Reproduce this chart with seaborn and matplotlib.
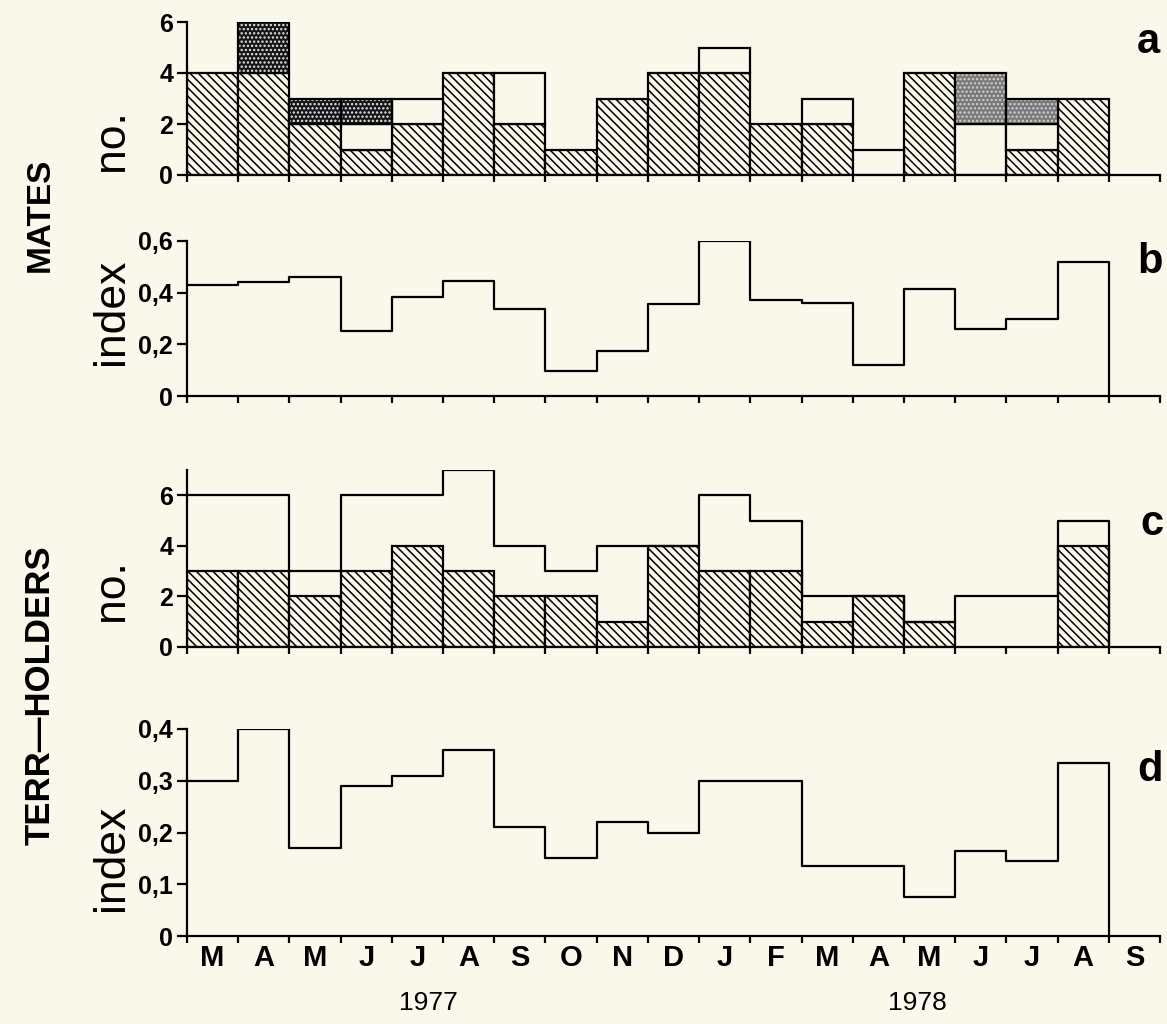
import numpy as np
import pandas as pd
import matplotlib
matplotlib.use("Agg")
import matplotlib.pyplot as plt
import seaborn as sns

# ---------------- data ----------------
months = ["M", "A", "M", "J", "J", "A", "S", "O", "N", "D",
          "J", "F", "M", "A", "M", "J", "J", "A", "S"]
years = ["1977", "1978"]

# panel a : MATES, number (stacked parts)
mates_hatched = [4, 4, 2, 1, 2, 4, 2, 1, 3, 4, 4, 2, 2, 0, 4, 0, 1, 3]
mates_open = [0, 0, 0, 1, 1, 0, 2, 0, 0, 0, 1, 0, 1, 1, 0, 2, 1, 0]
mates_dark = [0, 2, 1, 1, 0, 0, 0, 0, 0, 0, 0, 0, 0, 0, 0, 0, 0, 0]
mates_grey = [0, 0, 0, 0, 0, 0, 0, 0, 0, 0, 0, 0, 0, 0, 0, 2, 1, 0]

# panel b : MATES, index
mates_index = [0.43, 0.44, 0.46, 0.25, 0.385, 0.445, 0.335, 0.095, 0.175,
               0.355, 0.60, 0.37, 0.36, 0.12, 0.415, 0.26, 0.30, 0.52]

# panel c : TERR-HOLDERS, number
terr_total = [6, 6, 3, 6, 6, 7, 4, 3, 4, 4, 6, 5, 2, 2, 1, 2, 2, 5]
terr_hatched = [3, 3, 2, 3, 4, 3, 2, 2, 1, 4, 3, 3, 1, 2, 1, 0, 0, 4]

# panel d : TERR-HOLDERS, index
terr_index = [0.30, 0.40, 0.17, 0.29, 0.31, 0.36, 0.21, 0.15, 0.22, 0.20,
              0.30, 0.30, 0.135, 0.135, 0.075, 0.165, 0.145, 0.335]

ticks_no = [0, 2, 4, 6]
ticklabels_no = ["0", "2", "4", "6"]
ticks_b = [0, 0.2, 0.4, 0.6]
ticklabels_b = ["0", "0,2", "0,4", "0,6"]
ticks_d = [0, 0.1, 0.2, 0.3, 0.4]
ticklabels_d = ["0", "0,1", "0,2", "0,3", "0,4"]

# ---------------- style ----------------
BG = "#faf8ea"
LW = 1.6
HATCH = "\\" * 4
sns.set_theme(style="ticks")
plt.rcParams["font.family"] = ["Liberation Sans", "DejaVu Sans"]
plt.rcParams["hatch.linewidth"] = 1.1
plt.rcParams["axes.linewidth"] = LW

W, H = 1167, 1024
fig = plt.figure(figsize=(W / 100, H / 100), dpi=100, facecolor=BG)


def px_axes(left, top, right, bottom):
    return fig.add_axes([left / W, 1 - bottom / H, (right - left) / W, (bottom - top) / H])


axa = px_axes(187, 22, 1160, 175)
axb = px_axes(187, 241, 1160, 396)
axc = px_axes(187, 470, 1160, 647)
axd = px_axes(187, 729, 1160, 936)

n = len(mates_hatched)
edges = np.arange(n + 1)
centers = edges[:-1] + 0.5


def stack(ax, bottoms, heights, **kw):
    b = np.asarray(bottoms, float)
    h = np.asarray(heights, float)
    m = h > 0
    ax.bar(edges[:-1][m], h[m], bottom=b[m], width=1, align="edge", **kw)


def steps(ax, values):
    df = pd.DataFrame({"month": centers, "value": np.asarray(values, float)})
    sns.histplot(data=df, x="month", weights="value", binwidth=1, binrange=(0, n),
                 element="step", fill=False, color="black", linewidth=LW, ax=ax, zorder=3)
    ax.vlines(edges[-1], 0, values[-1], color="black", linewidth=LW, zorder=3)


# ---- panel a ----
h = np.array(mates_hatched, float)
o = np.array(mates_open, float)
dk = np.array(mates_dark, float)
gr = np.array(mates_grey, float)
stack(axa, 0 * h, h, facecolor=BG, edgecolor="black", linewidth=LW, hatch=HATCH, zorder=2)
stack(axa, h, o, facecolor=BG, edgecolor="black", linewidth=LW, zorder=2)
stack(axa, h + o, dk, facecolor="#161616", edgecolor="#e8e8e8", linewidth=0, hatch="....", zorder=2)
stack(axa, h + o, dk, fill=False, edgecolor="black", linewidth=LW, zorder=3)
stack(axa, h + o + dk, gr, facecolor="#7a7a7a", edgecolor="#d0d0d0", linewidth=0, hatch="....", zorder=2)
stack(axa, h + o + dk, gr, fill=False, edgecolor="black", linewidth=LW, zorder=3)

# ---- panel b ----
steps(axb, mates_index)

# ---- panel c ----
stack(axc, np.zeros(n), terr_hatched, facecolor=BG, edgecolor="black", linewidth=LW,
      hatch=HATCH, zorder=2)
steps(axc, terr_total)

# ---- panel d ----
steps(axd, terr_index)

# ---- axes formatting ----
setups = [
    (axa, (0, 6), ticks_no, ticklabels_no),
    (axb, (0, 0.6), ticks_b, ticklabels_b),
    (axc, (0, 7), ticks_no, ticklabels_no),
    (axd, (0, 0.4), ticks_d, ticklabels_d),
]
for ax, ylim, yt, ytl in setups:
    ax.set_facecolor("none")
    ax.set_xlim(0, len(months))
    ax.set_ylim(*ylim)
    ax.set_yticks(yt)
    ax.set_yticklabels(ytl, fontsize=18, fontweight="bold")
    ax.set_xticks(np.arange(len(months) + 1))
    ax.set_xticklabels([])
    ax.set_xlabel("")
    ax.set_ylabel("")
    ax.grid(False)
    for s in ["top", "right"]:
        ax.spines[s].set_visible(False)
    for s in ["left", "bottom"]:
        ax.spines[s].set_linewidth(LW)
        ax.spines[s].set_color("black")
    ax.tick_params(axis="y", direction="out", length=7, width=LW, pad=3, colors="black")
    ax.tick_params(axis="x", which="major", direction="out", length=5, width=LW, colors="black")

axd.set_xticks(np.arange(len(months)) + 0.5, minor=True)
axd.set_xticklabels(months, minor=True, fontsize=21, fontweight="bold")
axd.tick_params(axis="x", which="minor", length=0, pad=6, colors="black")


# ---- texts ----
def ftext(x, y, s, **kw):
    fig.text(x / W, 1 - y / H, s, ha="center", va="center", color="black", **kw)


ftext(40, 215, "MATES", rotation=90, fontsize=24, fontweight="bold")
ftext(40, 695, "TERR—HOLDERS", rotation=90, fontsize=25, fontweight="bold")
ftext(112, 140, "no.", rotation=90, fontsize=32)
ftext(112, 312, "index", rotation=90, fontsize=32)
ftext(112, 590, "no.", rotation=90, fontsize=32)
ftext(112, 858, "index", rotation=90, fontsize=32)
ftext(1148, 42, "a", fontsize=30, fontweight="bold")
ftext(1150, 262, "b", fontsize=30, fontweight="bold")
ftext(1152, 524, "c", fontsize=30, fontweight="bold")
ftext(1150, 770, "d", fontsize=30, fontweight="bold")
ftext(428, 1003, years[0], fontsize=19)
ftext(917, 1003, years[1], fontsize=19)

fig.savefig("out.png", dpi=100, facecolor=BG)
